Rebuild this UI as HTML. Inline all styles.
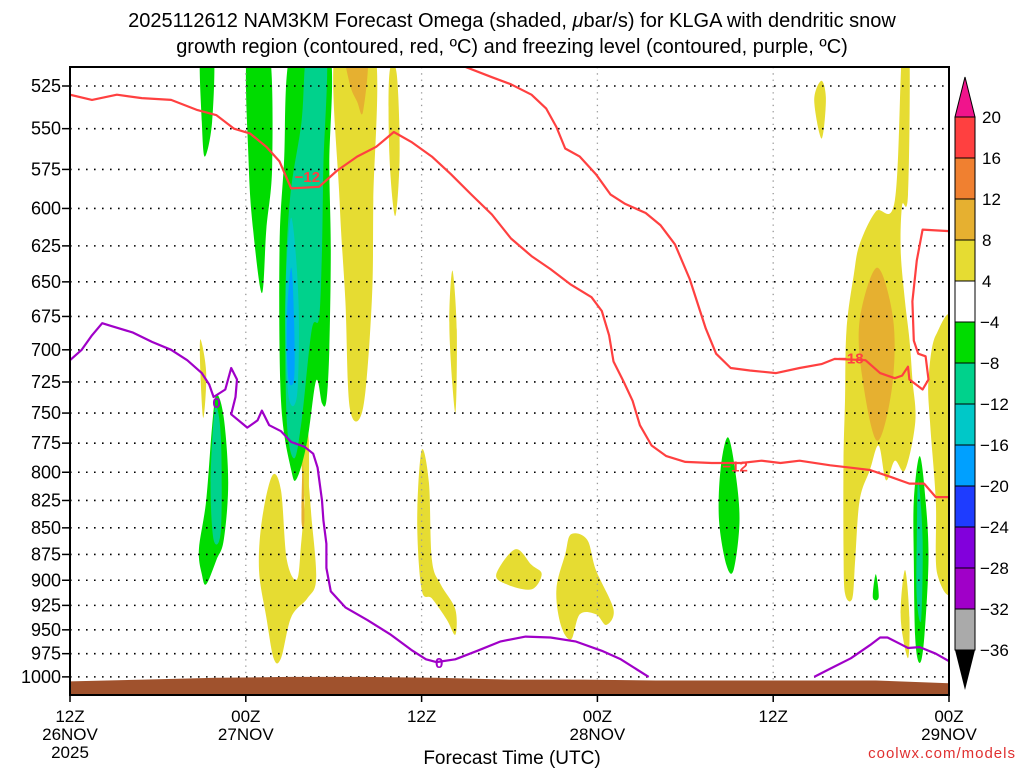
<!DOCTYPE html>
<html><head><meta charset="utf-8"><style>
html,body{margin:0;padding:0;background:#fff;}
svg{display:block;font-family:"Liberation Sans",sans-serif;}
</style></head><body>
<svg id="chart" width="1024" height="768" viewBox="0 0 1024 768">
<text x="512" y="27" text-anchor="middle" font-size="20">2025112612 NAM3KM Forecast Omega (shaded, <tspan font-style="italic">μ</tspan>bar/s) for KLGA with dendritic snow</text>
<text x="512" y="53" text-anchor="middle" font-size="20">growth region (contoured, red, ºC) and freezing level (contoured, purple, ºC)</text>
<defs><clipPath id="plotclip"><rect x="70" y="67" width="879" height="628"/></clipPath></defs>
<g id="shade" clip-path="url(#plotclip)"></g>
<g id="grid"></g>
<g id="ground" clip-path="url(#plotclip)"></g>
<g id="lines" clip-path="url(#plotclip)"></g>
<rect x="70" y="67" width="879" height="628" fill="none" stroke="#000" stroke-width="2"/>
<g id="yaxis"></g>
<g id="xaxis"></g>
<text x="512" y="764" text-anchor="middle" font-size="19">Forecast Time (UTC)</text>
<text x="1016" y="758" text-anchor="end" font-size="15" fill="#e03030" letter-spacing="1">coolwx.com/models</text>
<g id="cbar"></g>
</svg>
<script>
// ---- axis data ----
const pTicks = [525,550,575,600,625,650,675,700,725,750,775,800,825,850,875,900,925,950,975,1000];
const xTickHours = [0,12,24,36,48,60];
const xTickLine1 = ["12Z","00Z","12Z","00Z","12Z","00Z"];
const xTickLine2 = ["26NOV","27NOV","","28NOV","","29NOV"];
const xTickLine3 = ["2025","","","","",""];
const cbLevels = [20,16,12,8,4,-4,-8,-12,-16,-20,-24,-28,-32,-36];
const cbColors = ["#ff4040","#f08030","#e6b030","#e6dc32","#ffffff","#00dc00","#00d28c","#00c8c8","#00a0ff","#1e3cff","#8200dc","#a000c8","#aaaaaa"];
// ---- contour data (hours since 12Z 26NOV, hPa) ----
const redA_h = [0,1.5,3.2,4.9,6.9,8.7,10,11.2,12.3,13.4,14.3,15.1,17,18.2,19.6,20.9,22.1,23.3,24.7,26,27.4,28.8,30.1,31.5,32.8,34.2,35.6,36.3,36.8,37.1,37.8,38.4,38.9,39.7,40.7,42,43.8,45.8,47.2,48.5,49.8,51.9,53.3,54.6,56,57.3,58.3,59.1,60];
const redA_p = [530,533,530,532,533,539,542,550,553,561,570,587,586,576,567,561,552,558,567,578,591,604,620,632,641,652,661,671,689,709,725,740,760,777,786,791,792,792,790,792,790,794,796,798,804,810,810,822,822];
const redB_h = [26.3,28.8,30.1,31.5,32.5,33.2,33.8,34.8,35.9,36.9,37.9,39.3,40.3,41.3,42.3,43.4,44.1,45.1,46.4,48.2,49.8,51.3,52.2,54.3,55.3,56.3,56.8,57.2,57.3,58.2,58.6,58.4,57.9,57.6,57.5,57.8,58.2,60];
const redB_p = [512,520,524,530,538,549,562,567,578,591,597,603,611,624,648,684,703,714,716,718,714,711,707,708,718,722,720,713,723,731,723,705,703,693,664,635,614,615];
const frzA_h = [0,0.8,1.5,2.2,2.8,4.3,5.6,6.9,8,9,9.5,9.8,10.6,11,11.4,11.3,11,12.1,12.8,13.1,13.6,14.4,15.1,16,16.6,16.9,17.2,17.3,17.5,17.5,17.8,18.8,20.3,21.9,23.3,24.3,25,26.3,27.8,29.4,31.1,32.8,34.5,36.3,37.6,38.6,39.5];
const frzA_p = [708,700,689,680,682,687,694,700,708,718,727,737,731,714,723,737,751,762,756,748,760,765,774,778,784,796,825,843,865,888,911,927,940,955,971,981,984,981,972,962,957,958,962,972,981,991,1000];
const frzB_h = [50.8,51.9,53.3,54.6,55.3,55.8,56.7,57.2,58,59.1,60];
const frzB_p = [1000,991,980,966,958,958,965,969,968,975,983];
const labels = [{t:"−12",h:16.2,p:579,c:"#ff4040"},{t:"−12",h:45.4,p:794,c:"#ff4040"},{t:"−18",h:53.3,p:706,c:"#ff4040"},{t:"0",h:10,p:741,c:"#a000c8"},{t:"0",h:25.2,p:984,c:"#a000c8"}];
const groundHours = [0,5,10,15,20,25,30,35,40,45,50,55,60];
const groundP = [1005,1003,1001,1000,1000,1001,1003,1003,1004,1004,1004,1004,1007];
// ---- omega shaded regions: colour, hours, pressures ----
const blobColor = ["#e6dc32","#e6dc32","#e6dc32","#e6dc32","#e6dc32","#e6dc32","#e6dc32","#e6dc32","#e6dc32","#e6dc32","#e6dc32","#e6dc32","#e6dc32",
 "#e6b030","#e6b030","#e6b030",
 "#00dc00","#00dc00","#00dc00","#00dc00","#00dc00","#00dc00","#00dc00",
 "#00d28c","#00d28c","#00d28c","#00c8c8","#00a0ff"];
const blobH = [
 [18.1,20.8,20.7,20.6,20,19.1,18.8,18.4],
 [21.8,22.3,22.5,22.2,21.8],
 [8.9,9.3,9.1,8.9],
 [13.1,13.8,14.4,14.8,15.5,15.8,16.2,16.5,16.8,16.2,15.1,14.4,13.9,13.4,12.9],
 [15.9,16.3,16.2,15.7],
 [24,24.5,24.7,25.3,26.3,26.3,25.7,24.7,24,23.7],
 [26.1,26.4,26.3,25.9],
 [30.4,31.5,32.2,31.5,29.8,29.1],
 [34.2,35.3,35.9,37.1,36.6,35.9,34.8,34.2,33.5,33.2,33.8],
 [51.3,51.6,51.3,50.8],
 [56.8,57.3,57.2,56.8,56.7,57,57.3,57.5,57.7,57,56.3,55.7,55.2,54.6,53.9,53.6,53.4,52.9,52.8,52.8,52.9,53,53.5,53.9,55,56.3],
 [59.1,60.4,60.4,59.2,59.1,58.7,58.6],
 [57,57.3,57.2,56.7],
 [18.8,20.3,20,19.6,19.1],
 [15.9,16,15.8],
 [55.1,56.2,56.1,55.1,54.1,53.9],
 [8.9,9.8,9.7,9.2,9],
 [12.1,13.6,13.8,13.4,13.1,12.5,12.2],
 [15.1,17.7,17.7,17.8,17.7,17.5,17.2,16.8,16.2,15.5,15.1,14.4,14.3,14.6],
 [10,10.5,10.8,10.5,10,9.3,9,8.8,9.3,9.7],
 [44.9,45.4,45.7,45.3,44.8,44.3,44.4],
 [58,58.4,58.6,58.3,58,57.7,57.6,57.6],
 [55,55.2,54.8],
 [16.2,17.5,17.3,17.2,17,16.5,15.8,15.3,14.8,14.7,15,15.8],
 [9.9,10.3,10.3,9.8,9.6],
 [57.9,58.2,58.1,57.8,57.8],
 [15.1,15.6,15.5,14.9,14.7],
 [15.1,15.3,15.3,14.9,14.8]
];
const blobP = [
 [505,505,595,664,746,746,664,595],
 [518,518,566,605,566],
 [692,718,754,718],
 [843,803,816,880,899,861,807,843,899,918,937,980,980,937,890],
 [738,773,843,773],
 [781,809,880,904,929,955,939,918,909,843],
 [642,685,750,685],
 [870,885,894,909,904,894],
 [856,861,890,929,945,934,934,960,945,909,875],
 [522,533,556,533],
 [505,505,591,598,628,664,692,723,757,798,790,807,777,798,825,880,918,913,870,790,740,685,645,624,602,595],
 [689,687,894,894,825,757,723],
 [890,937,980,937],
 [505,505,540,534,524],
 [790,843,843],
 [640,678,730,773,723,678],
 [505,505,546,567,546],
 [505,505,572,614,658,614,572],
 [505,505,572,628,700,740,742,724,773,805,798,740,628,572],
 [735,754,809,861,880,904,894,870,825,761],
 [770,798,843,890,885,843,798],
 [786,825,880,960,985,960,880,825],
 [894,917,917],
 [505,505,572,628,676,685,757,788,757,664,595,546],
 [746,770,852,861,809],
 [807,861,939,918,861],
 [606,664,735,735,664],
 [640,678,722,722,678]
];

const NS = "http://www.w3.org/2000/svg";
const X0 = 70, X1 = 949;
function xScale(h){ return X0 + h*(X1-X0)/60; }
function yScale(p){ return 86 + 917*Math.log(p/525); }
function mk(tag, attrs, parent){
  const el = document.createElementNS(NS, tag);
  for (const k in attrs) el.setAttribute(k, attrs[k]);
  parent.appendChild(el); return el;
}
function smoothClosed(pts){
  const n = pts.length; let d = "M"+pts[0][0].toFixed(1)+","+pts[0][1].toFixed(1);
  for (let i=0;i<n;i++){
    const p0=pts[(i-1+n)%n], p1=pts[i], p2=pts[(i+1)%n], p3=pts[(i+2)%n];
    const c1=[p1[0]+(p2[0]-p0[0])/6, p1[1]+(p2[1]-p0[1])/6];
    const c2=[p2[0]-(p3[0]-p1[0])/6, p2[1]-(p3[1]-p1[1])/6];
    d+="C"+c1[0].toFixed(1)+","+c1[1].toFixed(1)+" "+c2[0].toFixed(1)+","+c2[1].toFixed(1)+" "+p2[0].toFixed(1)+","+p2[1].toFixed(1);
  }
  return d+"Z";
}
const shade = document.getElementById("shade");
for (let i=0;i<blobH.length;i++){
  const pts = blobH[i].map((h,j)=>[xScale(h), yScale(blobP[i][j])]);
  const el = mk("path",{d:smoothClosed(pts), fill:blobColor[i]}, shade);
  
  
}
// grid
const grid = document.getElementById("grid");
pTicks.forEach(p=>{
  const el = mk("line",{x1:X0,x2:X1,y1:yScale(p),y2:yScale(p),stroke:"#000","stroke-width":1.6,"stroke-dasharray":"1.6 6.4"},grid);
  
  
});
xTickHours.slice(1,-1).forEach(h=>{
  const el = mk("line",{x1:xScale(h),x2:xScale(h),y1:67,y2:695,stroke:"#999","stroke-width":1.3,"stroke-dasharray":"1.3 5"},grid);
  
  
});
// ground
const gpts = groundHours.map((h,i)=>xScale(h).toFixed(1)+","+yScale(groundP[i]).toFixed(1));
const gEl = mk("polygon",{points:"70,700 "+gpts.join(" ")+" 950,700",fill:"#a0522d"},document.getElementById("ground"));


// lines
const lines = document.getElementById("lines");
function drawLine(hs, ps, color, name){
  const d = hs.map((h,i)=>(i?"L":"M")+xScale(h).toFixed(1)+","+yScale(ps[i]).toFixed(1)).join("");
  const el = mk("path",{d:d,fill:"none",stroke:color,"stroke-width":2.2,"stroke-linejoin":"round"},lines);
  
  
}
drawLine(redA_h, redA_p, "#ff4040", "dgz-minus12-contour");
drawLine(redB_h, redB_p, "#ff4040", "dgz-minus18-contour");
drawLine(frzA_h, frzA_p, "#a000c8", "freezing-level-contour");
drawLine(frzB_h, frzB_p, "#a000c8", "freezing-level-contour-late");
labels.forEach(l=>{
  const x=xScale(l.h), y=yScale(l.p);
  const t = mk("text",{x:x,y:y+6,"text-anchor":"middle","font-size":15,"font-weight":"bold",fill:l.c},lines);
  t.textContent = l.t;
  
  
});
// y axis
const yaxis = document.getElementById("yaxis");
pTicks.forEach(p=>{
  const y=yScale(p);
  mk("line",{x1:62,x2:70,y1:y,y2:y,stroke:"#000","stroke-width":1.5},yaxis);
  const t = mk("text",{x:61,y:y+6,"text-anchor":"end","font-size":18},yaxis);
  t.textContent = p;
  
  
});
// x axis
const xaxis = document.getElementById("xaxis");
xTickHours.forEach((h,i)=>{
  const x=xScale(h);
  mk("line",{x1:x,x2:x,y1:695,y2:702,stroke:"#000","stroke-width":1.5},xaxis);
  const rows=[xTickLine1[i],xTickLine2[i],xTickLine3[i]];
  rows.forEach((s,r)=>{
    if(!s) return;
    const t = mk("text",{x:x,y:722+r*18,"text-anchor":"middle","font-size":17},xaxis);
    t.textContent = s;
    
    
  });
});
// colour bar
const cbar = document.getElementById("cbar");
const cbX=955, cbW=20, cbY0=117, cbStep=41;
const topTri = mk("polygon",{points:`${cbX},${cbY0} ${cbX+cbW},${cbY0} ${cbX+cbW/2},${cbY0-40}`,fill:"#f0148c",stroke:"#000","stroke-width":1},cbar);


cbColors.forEach((c,i)=>{
  const el = mk("rect",{x:cbX,y:cbY0+i*cbStep,width:cbW,height:cbStep,fill:c,stroke:"#000","stroke-width":1},cbar);
  
  
});
const yb = cbY0+cbColors.length*cbStep;
const botTri = mk("polygon",{points:`${cbX},${yb} ${cbX+cbW},${yb} ${cbX+cbW/2},${yb+40}`,fill:"#000"},cbar);


cbLevels.forEach((v,i)=>{
  const t = mk("text",{x:v<0?980:982,y:cbY0+i*cbStep+6,"font-size":17},cbar);
  t.textContent = v<0 ? "−"+Math.abs(v) : String(v);
  
  
});
</script>
</body></html>
